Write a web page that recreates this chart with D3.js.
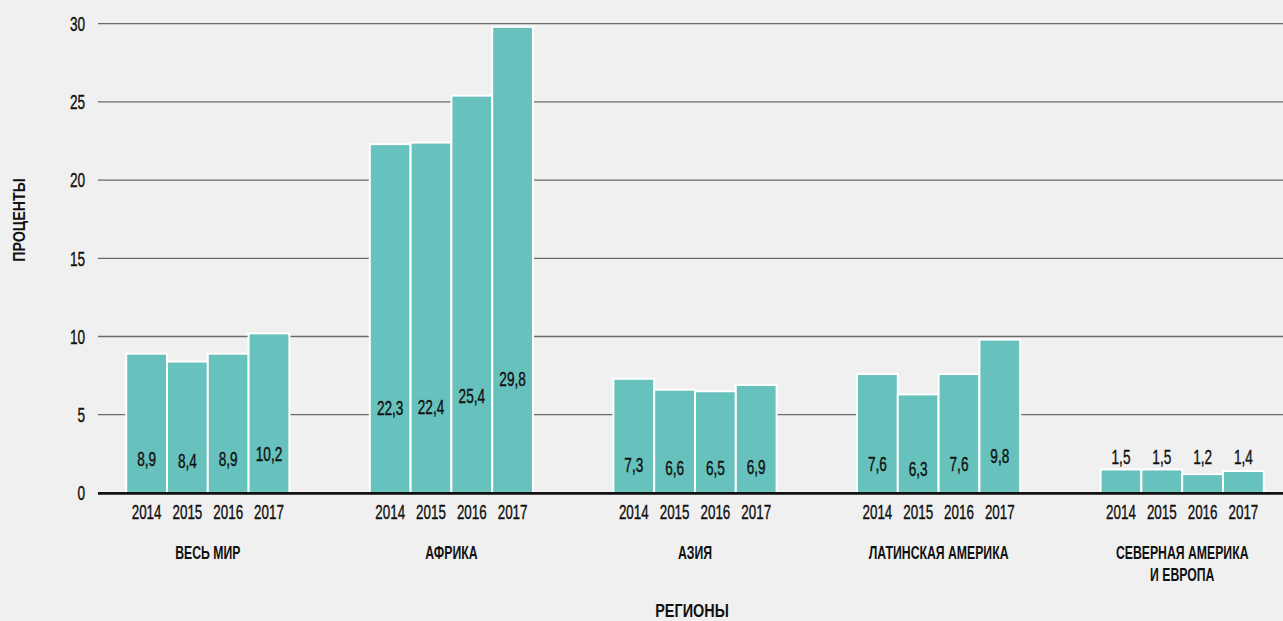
<!DOCTYPE html>
<html><head><meta charset="utf-8">
<script src="https://cdn.jsdelivr.net/npm/d3@7"></script>
<style>
html,body{margin:0;padding:0;background:#f0f0f0;}
svg{display:block;}
text{font-family:"Liberation Sans",Arial,sans-serif;fill:#111;}
</style></head>
<body>
<svg id="chart" width="1283" height="621"></svg>
<script>
const regions = [["ВЕСЬ МИР"],["АФРИКА"],["АЗИЯ"],["ЛАТИНСКАЯ АМЕРИКА"],["СЕВЕРНАЯ АМЕРИКА","И ЕВРОПА"]];
const years = ["2014","2015","2016","2017"];
const v2014 = [8.9, 22.3, 7.3, 7.6, 1.5];
const v2015 = [8.4, 22.4, 6.6, 6.3, 1.5];
const v2016 = [8.9, 25.4, 6.5, 7.6, 1.2];
const v2017 = [10.2, 29.8, 6.9, 9.8, 1.4];
const yTicks = [0,5,10,15,20,25,30];
const yTitle = "ПРОЦЕНТЫ";
const xTitle = "РЕГИОНЫ";

const series = [v2014, v2015, v2016, v2017];
const W = 1283, H = 621;
const svg = d3.select("#chart");
svg.append("rect").attr("width", W).attr("height", H).attr("fill", "#f0f0f0");

const regionKeys = regions.map((r,i)=>"r"+i);
const x0 = d3.scaleBand().domain(regionKeys).range([86, 1304]).paddingInner(0.33).paddingOuter(0.165);
const x1 = d3.scaleBand().domain(years).range([0, x0.bandwidth()]).padding(0);
const y = d3.scaleLinear().domain([0,30]).range([492.9, 23.7]);

const SX = 0.68; // condensed look
function label(g, x, yy, str, size, anchor, weight, sx, sw) {
  const t = g.append("text")
    .attr("transform", `translate(${x},${yy}) scale(${sx||SX},1)`)
    .attr("dy", "0.36em")
    .attr("text-anchor", anchor || "middle")
    .attr("font-size", size)
    .attr("font-weight", weight || "normal")
    .text(str);
  if (sw) t.attr("stroke", "#111").attr("stroke-width", sw);
  return t;
}

// gridlines
const plotLeft = 98, plotRight = 1283;
svg.append("g").selectAll("line").data(yTicks.filter(t=>t>0)).join("line")
  .attr("x1", plotLeft).attr("x2", plotRight)
  .attr("y1", d=>y(d)).attr("y2", d=>y(d))
  .attr("stroke", "#6b6b6b").attr("stroke-width", 1.3);

// y tick labels
const gy = svg.append("g");
yTicks.forEach(t => label(gy, 85, y(t), String(t), 20, "end", "normal", 0.68, 0.4));

// bars
const flat = [];
regionKeys.forEach((rk,i)=>{
  years.forEach((yr,j)=>{ flat.push({rk, yr, v: series[j][i]}); });
});
svg.append("g").selectAll("rect").data(flat).join("rect")
  .attr("x", d=>x0(d.rk)+x1(d.yr))
  .attr("y", d=>y(d.v))
  .attr("width", x1.bandwidth())
  .attr("height", d=>y(0)-y(d.v))
  .attr("fill", "#67c1bd")
  .attr("stroke", "#ffffff").attr("stroke-width", 2);

// baseline
svg.append("line").attr("x1", plotLeft).attr("x2", plotRight)
  .attr("y1", y(0)+0.5).attr("y2", y(0)+0.5)
  .attr("stroke", "#111").attr("stroke-width", 2.6);

// value labels
const fmt = v => v.toFixed(1).replace(".", ",");
const gv = svg.append("g");
flat.forEach(d => {
  const cx = x0(d.rk)+x1(d.yr)+x1.bandwidth()/2;
  const cy = d.v < 3 ? y(2.3) : y(d.v*0.245);
  label(gv, cx, cy, fmt(d.v), 20, "middle", "normal", 0.68, 0.4);
});

// year labels
const gx = svg.append("g");
flat.forEach(d => {
  const cx = x0(d.rk)+x1(d.yr)+x1.bandwidth()/2;
  label(gx, cx, 511.5, d.yr, 20, "middle", "normal", 0.67, 0.4);
});

// region labels
const gr = svg.append("g");
regions.forEach((lines, i) => {
  const cx = x0(regionKeys[i]) + x0.bandwidth()/2;
  lines.forEach((ln, k) => label(gr, cx, 553 + k*22, ln, 17.5, "middle", "bold", 0.7));
});

// axis titles
label(svg, 692, 610.5, xTitle, 19, "middle", "bold", 0.76);
svg.append("text").attr("transform","translate(19,220) rotate(-90) scale(0.84,1)")
  .attr("dy","0.36em").attr("text-anchor","middle")
  .attr("font-size", 17).attr("font-weight","bold")
  .text(yTitle);
</script>
</body></html>
